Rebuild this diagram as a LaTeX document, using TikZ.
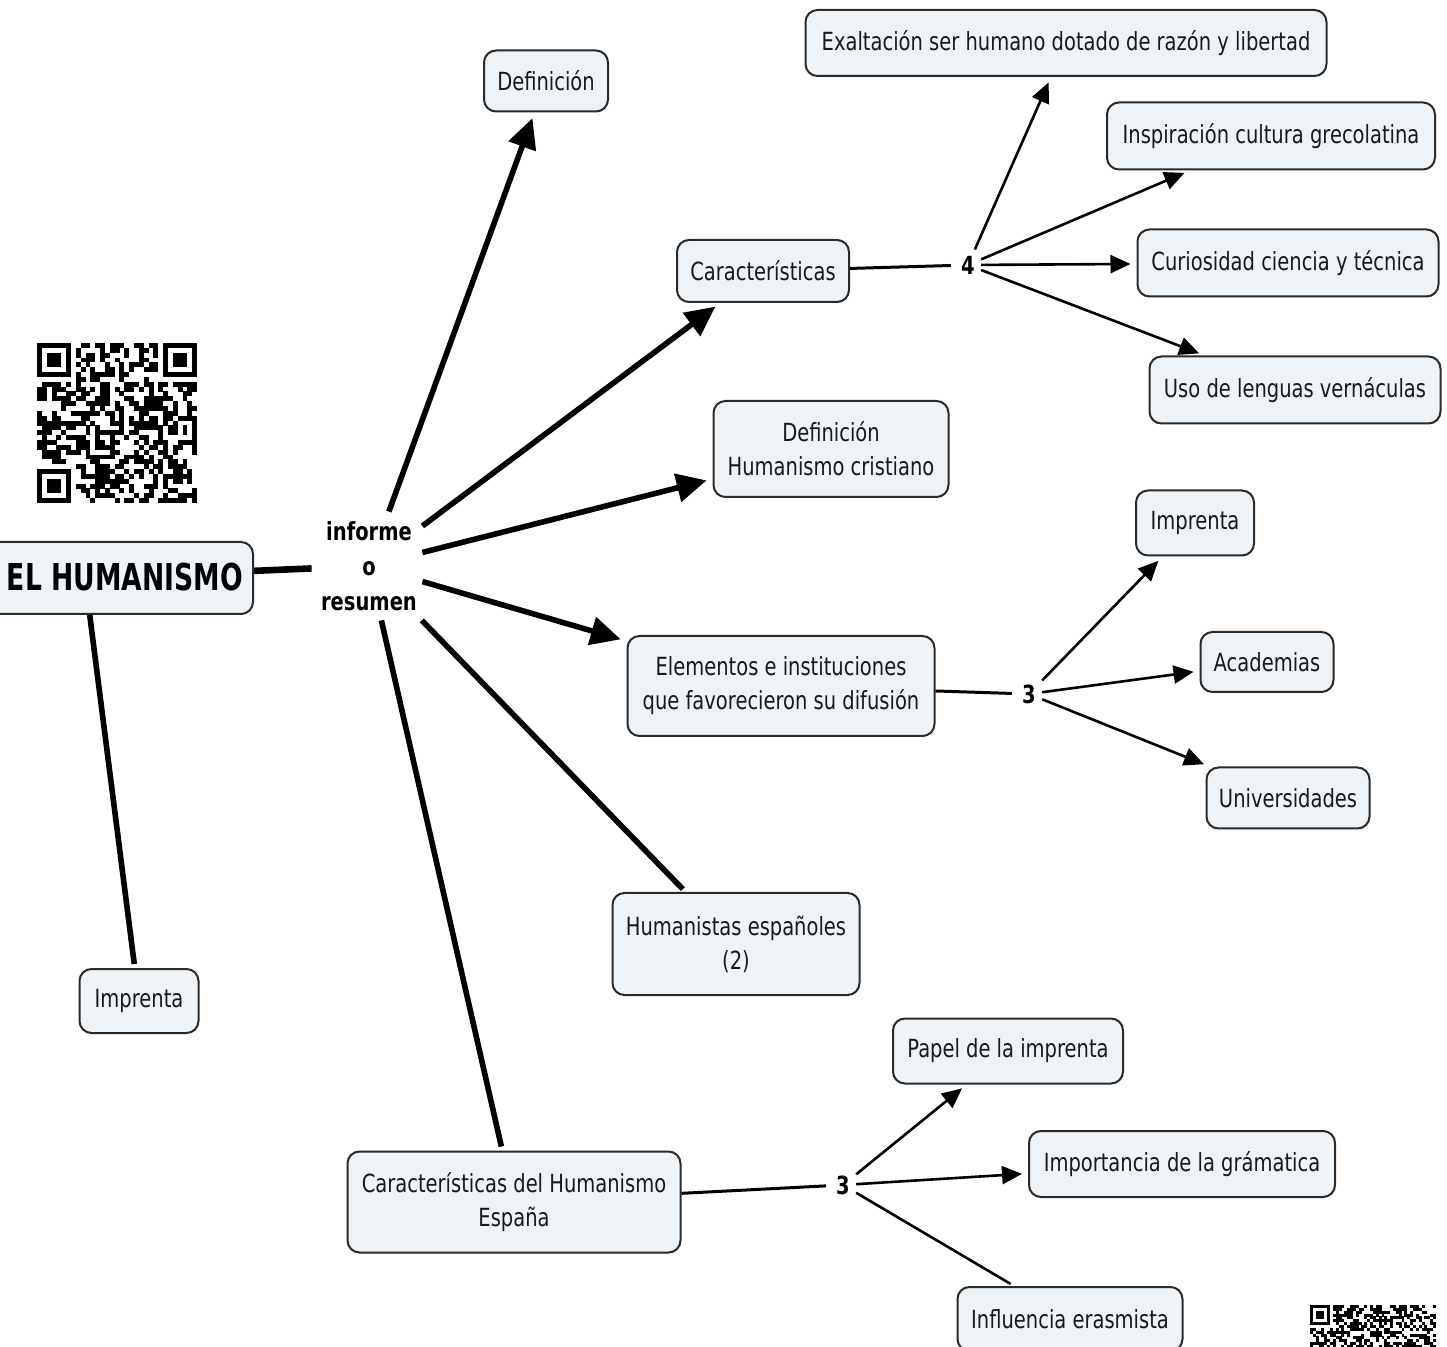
\documentclass[tikz,border=0pt]{standalone}
\usepackage{fontspec}
\setmainfont{DejaVu Sans}[FakeStretch=0.78]
\newfontfamily\rootfont{DejaVu Sans}[FakeStretch=0.72]
\usetikzlibrary{arrows.meta}
\definecolor{boxfill}{HTML}{EDF3F6}
\definecolor{boxline}{HTML}{2A2A2A}
\newcommand\myfinder[3]{%
 \fill (#1,#2) rectangle ++({7*#3},{7*#3});
 \fill[white] ({#1+#3},{#2+#3}) rectangle ++({5*#3},{5*#3});
 \fill ({#1+2*#3},{#2+2*#3}) rectangle ++({3*#3},{3*#3});}
\tikzset{
 box/.style={draw=boxline, line width=1pt, rounded corners=6pt, fill=boxfill,
   text=black!90, align=center, inner sep=0pt,
   font=\fontsize{12.5}{17}\selectfont},
 lnk/.style={font=\bfseries\fontsize{12.5}{15}\selectfont, inner sep=3pt},
 thk/.style={line width=2.8pt, shorten >=2pt},
 thn/.style={line width=1.3pt, shorten >=2pt},
 arrT/.style={-{Triangle[length=15pt,width=14pt]}, shorten >=3pt},
 arrt/.style={-{Triangle[length=10pt,width=9pt]}, shorten >=3pt},
}
\begin{document}
\begin{tikzpicture}[x=0.5pt,y=-0.5pt]
\useasboundingbox (0,0) rectangle (1447,1347);
\fill[white] (0,0) rectangle (1447,1347);

% QR codes
\begin{scope}
\myfinder{37}{343}{4.85}
\myfinder{37}{469.1}{4.85}
\myfinder{163.1}{343}{4.85}
\pgfmathsetseed{4711}
\foreach \i in {0,...,32}{\foreach \j in {0,...,32}{
 \pgfmathtruncatemacro{\r}{random(0,1)}
 \pgfmathtruncatemacro{\k}{((\i<8)&&(\j<8))||((\i>24)&&(\j<8))||((\i<8)&&(\j>24)) ? 0 : \r}
 \ifnum\k=1 \fill ({37+\i*4.85},{343+\j*4.85}) rectangle ++(4.95,4.95);\fi
}}
\myfinder{1310}{1305}{2.86}
\pgfmathsetseed{815}
\foreach \i in {0,...,43}{\foreach \j in {0,...,14}{
 \pgfmathtruncatemacro{\r}{random(0,1)}
 \pgfmathtruncatemacro{\k}{((\i<8)&&(\j<8)) ? 0 : \r}
 \ifnum\k=1 \fill ({1310+\i*2.86},{1305+\j*2.86}) rectangle ++(2.95,2.95);\fi
}}
\end{scope}

% nodes
\node[box, minimum width=168pt, minimum height=36pt] (root) at (85,578) {};
\node[font=\rootfont\bfseries\fontsize{18.5}{20}\selectfont, inner sep=0pt] (roottxt) at (125,577) {EL HUMANISMO};
\node[align=center, minimum width=53pt, minimum height=54pt, inner sep=0pt,
  font=\bfseries\fontsize{12.5}{17.5}\selectfont] (inf) at (369,566) {informe\\o\\resumen};

\node[box, minimum width=62pt, minimum height=30.5pt] (def1) at (546,81) {Definición};
\node[box, minimum width=86pt, minimum height=31pt] (car) at (763,271) {Características};
\node[box, minimum width=117.5pt, minimum height=48pt] (defhc) at (831,449) {Definición\\Humanismo cristiano};
\node[box, minimum width=153.5pt, minimum height=50pt] (elem) at (781,686) {Elementos e instituciones\\que favorecieron su difusión};
\node[box, minimum width=123.5pt, minimum height=51pt] (hum) at (736,944) {Humanistas españoles\\(2)};
\node[box, minimum width=166.5pt, minimum height=50.5pt] (care) at (514,1202) {Características del Humanismo\\España};
\node[box, minimum width=59.5pt, minimum height=32pt] (impL) at (139,1001) {Imprenta};

\node[box, minimum width=260.5pt, minimum height=33pt] (exal) at (1066,43) {Exaltación ser humano dotado de razón y libertad};
\node[box, minimum width=164pt, minimum height=33.5pt] (insp) at (1271,136) {Inspiración cultura grecolatina};
\node[box, minimum width=150.5pt, minimum height=33.5pt] (cur) at (1288,263) {Curiosidad ciencia y técnica};
\node[box, minimum width=145.5pt, minimum height=33.5pt] (uso) at (1295,390) {Uso de lenguas vernáculas};

\node[box, minimum width=59pt, minimum height=32.5pt] (impR) at (1195,523) {Imprenta};
\node[box, minimum width=66.5pt, minimum height=30pt] (acad) at (1267,662) {Academias};
\node[box, minimum width=81.5pt, minimum height=30.5pt] (univ) at (1288,798) {Universidades};

\node[box, minimum width=115pt, minimum height=32.5pt] (pap) at (1008,1051) {Papel de la imprenta};
\node[box, minimum width=153pt, minimum height=33pt] (impo) at (1182,1164) {Importancia de la grámatica};
\node[box, minimum width=112.5pt, minimum height=32pt] (infl) at (1070,1319) {Influencia erasmista};

\node[lnk] (n4) at (968,265) {4};
\node[lnk] (n3a) at (1029,694) {3};
\node[lnk] (n3b) at (843,1185) {3};

% connectors
\draw[thk, line width=3.3pt] (root) -- (inf);
\draw[thk] (root) -- (impL);
\draw[thk, arrT] (inf) -- (def1);
\draw[thk, arrT] (inf) -- (car);
\draw[thk, arrT] (inf) -- (defhc);
\draw[thk, arrT] (inf) -- (elem);
\draw[thk] (inf) -- (hum);
\draw[thk] (inf) -- (care);

\draw[thn, line width=1.5pt] (car) -- (n4);
\draw[thn, arrt] (n4) -- (exal);
\draw[thn, arrt] (n4) -- (insp);
\draw[thn, arrt] (n4) -- (cur);
\draw[thn, arrt] (n4) -- (uso);

\draw[thn, line width=1.5pt] (elem) -- (n3a);
\draw[thn, arrt] (n3a) -- (impR);
\draw[thn, arrt] (n3a) -- (acad);
\draw[thn, arrt] (n3a) -- (univ);

\draw[thn, line width=1.5pt] (care) -- (n3b);
\draw[thn, arrt] (n3b) -- (pap);
\draw[thn, arrt] (n3b) -- (impo);
\draw[thn] (n3b) -- (infl);
\end{tikzpicture}
\end{document}
